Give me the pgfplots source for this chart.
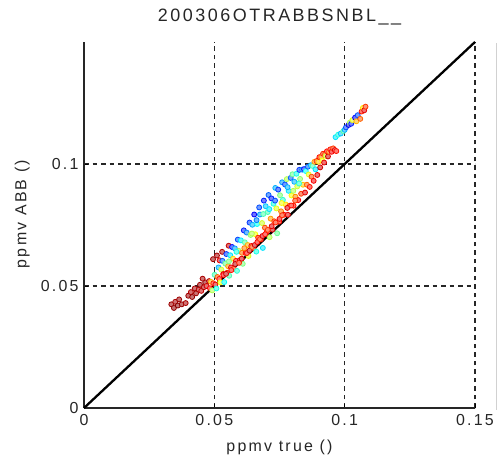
\documentclass[border=0pt]{standalone}
\usepackage{pgfplots}
\pgfplotsset{compat=1.18}
\usepackage{fontspec}
\setmainfont{Liberation Sans}
\newfontfamily\lab[LetterSpace=14]{Liberation Sans}
\pgfplotstableread{
x y c
0.0335 0.0425 0.97
0.0345 0.0410 0.98
0.0350 0.0435 0.96
0.0360 0.0420 0.99
0.0365 0.0445 0.97
0.0375 0.0425 0.98
0.0390 0.0430 0.96
0.0400 0.0460 0.97
0.0410 0.0475 0.95
0.0415 0.0455 0.98
0.0425 0.0490 0.96
0.0430 0.0470 0.97
0.0440 0.0485 0.95
0.0445 0.0505 0.97
0.0450 0.0480 0.93
0.0460 0.0495 0.95
0.0465 0.0515 0.98
0.0470 0.0500 0.92
0.0455 0.0530 0.96
0.0480 0.0520 0.94
0.0495 0.0610 0.97
0.0510 0.0625 0.96
0.0530 0.0640 0.95
0.0555 0.0665 0.93
0.0520 0.0605 0.90
0.0483 0.0491 0.88
0.0487 0.0517 0.70
0.0492 0.0482 0.55
0.0496 0.0511 0.84
0.0501 0.0546 0.45
0.0504 0.0506 0.90
0.0508 0.0490 0.40
0.0512 0.0537 0.78
0.0516 0.0576 0.30
0.0519 0.0529 0.86
0.0523 0.0515 0.62
0.0527 0.0567 0.58
0.0531 0.0603 0.22
0.0534 0.0549 0.91
0.0538 0.0516 0.38
0.0542 0.0592 0.48
0.0546 0.0631 0.18
0.0549 0.0554 0.84
0.0553 0.0581 0.72
0.0557 0.0542 0.45
0.0561 0.0626 0.35
0.0564 0.0576 0.89
0.0568 0.0660 0.14
0.0572 0.0612 0.66
0.0575 0.0570 0.82
0.0579 0.0654 0.28
0.0583 0.0603 0.87
0.0587 0.0562 0.42
0.0590 0.0690 0.20
0.0594 0.0644 0.55
0.0598 0.0606 0.92
0.0602 0.0687 0.36
0.0606 0.0636 0.76
0.0609 0.0591 0.50
0.0613 0.0728 0.15
0.0617 0.0679 0.46
0.0620 0.0635 0.86
0.0624 0.0719 0.25
0.0628 0.0668 0.70
0.0631 0.0623 0.60
0.0635 0.0760 0.18
0.0639 0.0709 0.52
0.0642 0.0664 0.88
0.0646 0.0751 0.30
0.0650 0.0655 0.83
0.0653 0.0793 0.12
0.0657 0.0712 0.62
0.0661 0.0641 0.40
0.0664 0.0754 0.38
0.0668 0.0698 0.85
0.0672 0.0822 0.20
0.0675 0.0793 0.28
0.0679 0.0691 0.90
0.0683 0.0758 0.58
0.0686 0.0656 0.35
0.0690 0.0850 0.15
0.0694 0.0739 0.80
0.0697 0.0827 0.32
0.0701 0.0721 0.87
0.0705 0.0803 0.45
0.0708 0.0873 0.22
0.0712 0.0700 0.55
0.0716 0.0776 0.72
0.0719 0.0859 0.15
0.0723 0.0731 0.92
0.0727 0.0837 0.40
0.0730 0.0765 0.82
0.0734 0.0902 0.30
0.0738 0.0818 0.60
0.0741 0.0716 0.48
0.0745 0.0895 0.18
0.0749 0.0764 0.86
0.0752 0.0872 0.50
0.0756 0.0806 0.75
0.0760 0.0925 0.28
0.0763 0.0853 0.42
0.0767 0.0792 0.88
0.0771 0.0916 0.20
0.0774 0.0834 0.66
0.0778 0.0938 0.55
0.0782 0.0792 0.90
0.0785 0.0890 0.35
0.0789 0.0829 0.80
0.0793 0.0943 0.22
0.0796 0.0871 0.62
0.0800 0.0958 0.48
0.0804 0.0829 0.86
0.0807 0.0927 0.30
0.0811 0.0866 0.74
0.0815 0.0960 0.40
0.0818 0.0908 0.58
0.0822 0.0852 0.88
0.0826 0.0976 0.18
0.0829 0.0939 0.52
0.0833 0.0878 0.82
0.0837 0.0977 0.25
0.0840 0.0915 0.68
0.0844 0.0979 0.15
0.0848 0.0883 0.90
0.0851 0.0971 0.38
0.0855 0.0915 0.78
0.0859 0.0989 0.22
0.0862 0.0957 0.60
0.0866 0.0906 0.86
0.0870 0.0995 0.30
0.0873 0.0948 0.80
0.0877 0.0992 0.45
0.0881 0.0931 0.88
0.0884 0.1009 0.72
0.0888 0.0978 0.35
0.0892 0.1012 0.82
0.0895 0.0955 0.90
0.0899 0.1009 0.68
0.0903 0.1028 0.86
0.0906 0.0986 0.92
0.0910 0.1028 0.75
0.0914 0.1014 0.62
0.0917 0.1042 0.84
0.0921 0.1006 0.90
0.0925 0.1040 0.80
0.0928 0.1033 0.58
0.0932 0.1052 0.87
0.0936 0.1031 0.92
0.0940 0.1050 0.78
0.0945 0.1060 0.85
0.0950 0.1050 0.88
0.0956 0.1064 0.82
0.0962 0.1057 0.90
0.0968 0.1053 0.86
0.0556 0.0601 0.50
0.0585 0.0640 0.40
0.0615 0.0655 0.75
0.0644 0.0715 0.55
0.0662 0.0770 0.25
0.0688 0.0795 0.45
0.0711 0.0815 0.35
0.0733 0.0850 0.20
0.0758 0.0840 0.62
0.0781 0.0905 0.30
0.0803 0.0890 0.55
0.0825 0.0920 0.42
0.0535 0.0545 0.87
0.0545 0.0550 0.92
0.0565 0.0565 0.86
0.0580 0.0590 0.93
0.0595 0.0595 0.84
0.0605 0.0612 0.91
0.0625 0.0635 0.86
0.0635 0.0645 0.93
0.0645 0.0660 0.80
0.0655 0.0668 0.92
0.0665 0.0680 0.87
0.0675 0.0692 0.83
0.0685 0.0705 0.91
0.0695 0.0712 0.86
0.0705 0.0730 0.82
0.0720 0.0745 0.90
0.0735 0.0760 0.84
0.0750 0.0775 0.89
0.0760 0.0790 0.83
0.0780 0.0820 0.90
0.0795 0.0830 0.86
0.0810 0.0850 0.82
0.0965 0.1110 0.35
0.0975 0.1120 0.40
0.0985 0.1125 0.32
0.0995 0.1135 0.45
0.1000 0.1140 0.30
0.1005 0.1150 0.20
0.1015 0.1160 0.10
0.1020 0.1170 0.55
0.1025 0.1165 0.15
0.1030 0.1180 0.60
0.1040 0.1190 0.12
0.1045 0.1175 0.70
0.1050 0.1200 0.20
0.1060 0.1185 0.78
0.1065 0.1215 0.85
0.1070 0.1230 0.65
0.1075 0.1220 0.90
0.1080 0.1235 0.82
}\pts
\begin{document}
\begin{tikzpicture}
\useasboundingbox (0,0) rectangle (497bp,460bp);
\draw[black!18, line width=0.8bp] (496bp,50bp) -- (496bp,417bp);
\begin{axis}[
  at={(84bp,52bp)}, anchor=south west,
  scale only axis, width=391bp, height=366bp,
  xmin=0, xmax=0.15, ymin=0, ymax=0.15,
  axis x line=bottom, axis y line=left,
  axis line style={-, line width=1.2bp, black!85},
  xtick={0,0.05,0.1,0.15}, xticklabels={0,0.05,0.1,0.15},
  ytick={0,0.05,0.1}, yticklabels={0,0.05,0.1},
  tick align=inside, major tick length=4bp,
  tick style={black, line width=0.8bp},
  grid=major,
  major grid style={black!85, line width=1.4bp, dash pattern=on 4.5bp off 4bp},
  ticklabel style={font=\lab\fontsize{16}{19}\selectfont, text=black!85},
  xticklabel style={yshift=-3bp},
  yticklabel style={xshift=-2bp},
  title={200306OTRABBSNBL\_\_},
  title style={font=\lab\fontsize{18}{21}\selectfont, text=black!85, at={(0.5,1)}, anchor=base, yshift=15bp},
  xlabel={ppmv true ()},
  xlabel style={font=\lab\fontsize{16}{19}\selectfont, text=black!85, at={(0.5,0)}, anchor=base, yshift=-43bp},
  ylabel={ppmv ABB ()},
  ylabel style={font=\lab\fontsize{16}{19}\selectfont, text=black!85, at={(axis description cs:-0.158,0.53)}, anchor=center},
  colormap/jet, point meta min=0, point meta max=1,
  clip=false,
]
\addplot[scatter, only marks, mark=*, mark size=2.5bp, line width=0.8bp,
  scatter src=explicit,
  scatter/use mapped color={draw=mapped color, fill=mapped color!55}]
  table[meta=c] {\pts};
\addplot[black, line width=2.3bp] coordinates {(0,0) (0.15,0.15)};
\end{axis}
\end{tikzpicture}
\end{document}
